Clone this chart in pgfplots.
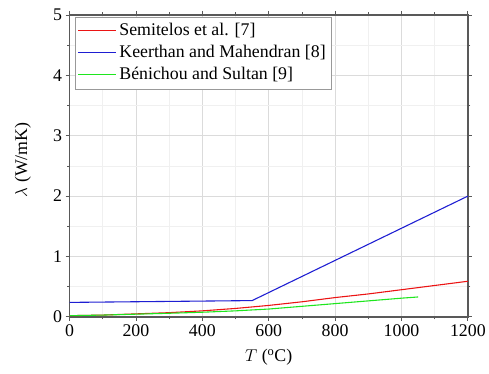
\documentclass[border=0pt]{standalone}
\usepackage{pgfplots}
\pgfplotsset{compat=1.18}
\usepackage{fontspec}
\setmainfont{Liberation Serif}
\definecolor{cred}{RGB}{235,20,20}
\definecolor{cblue}{RGB}{30,30,210}
\definecolor{cgreen}{RGB}{30,230,30}
\begin{document}
\begin{tikzpicture}
\begin{axis}[
  name=ax,
  scale only axis, width=401bp, height=304bp,
  xmin=0, xmax=1200, ymin=0, ymax=5,
  xtick={0,200,...,1200}, ytick={0,1,...,5},
  minor x tick num=1, minor y tick num=1,
  tick align=outside, tick pos=both,
  xticklabel pos=bottom, yticklabel pos=left,
  major tick length=4bp, minor tick length=2.5bp,
  every tick/.style={gray!70!black, line width=0.8pt},
  grid=both,
  major grid style={gray!28, line width=0.5pt},
  minor grid style={gray!12, line width=0.5pt},
  axis line style={gray!70!black, line width=1.3pt},
  /pgf/number format/assume math mode=true,
  /pgf/number format/1000 sep={},
  tick label style={font=\fontsize{18}{20}\selectfont},
  xlabel={$T$ (\textsuperscript{o}C)},
  ylabel={$\lambda$ (W/mK)},
  every axis x label/.style={at={(axis description cs:0.5,-0.135)}, anchor=center,
    font=\fontsize{18}{20}\selectfont},
  every axis y label/.style={at={(axis description cs:-0.117,0.52)}, anchor=center,
    rotate=90, font=\fontsize{18}{20}\selectfont},
  legend style={at={(0.0125,0.993)}, anchor=north west, draw=gray!80,
    font=\fontsize{18}{20}\selectfont, row sep=0bp, inner sep=3bp,
    nodes={text height=13bp, text depth=4bp, inner sep=2.5bp}},
  legend cell align=left,
  legend image code/.code={\draw[#1, line width=1.5pt] (0bp,0.5bp) -- (38bp,0.5bp);},
]
\addplot[cred, line width=1.1pt] coordinates {
 (0,0.02) (100,0.03) (200,0.05) (300,0.07) (400,0.10) (500,0.14) (600,0.19)
 (700,0.25) (800,0.32) (900,0.38) (1000,0.45) (1100,0.52) (1200,0.59)};
\addlegendentry{Semitelos et al. [7]}
\addplot[cblue, line width=1.1pt] coordinates {
 (0,0.24) (550,0.27) (1200,2.0)};
\addlegendentry{Keerthan and Mahendran [8]}
\addplot[cgreen, line width=1.1pt] coordinates {
 (0,0.02) (100,0.03) (200,0.045) (300,0.06) (400,0.077) (500,0.10) (600,0.13)
 (700,0.175) (800,0.22) (900,0.265) (1000,0.31) (1050,0.33)};
\addlegendentry{Bénichou and Sultan [9]}
\end{axis}
\path ([shift={(-70bp,-57bp)}]ax.south west) ([shift={(18bp,15bp)}]ax.north east);
\end{tikzpicture}
\end{document}
